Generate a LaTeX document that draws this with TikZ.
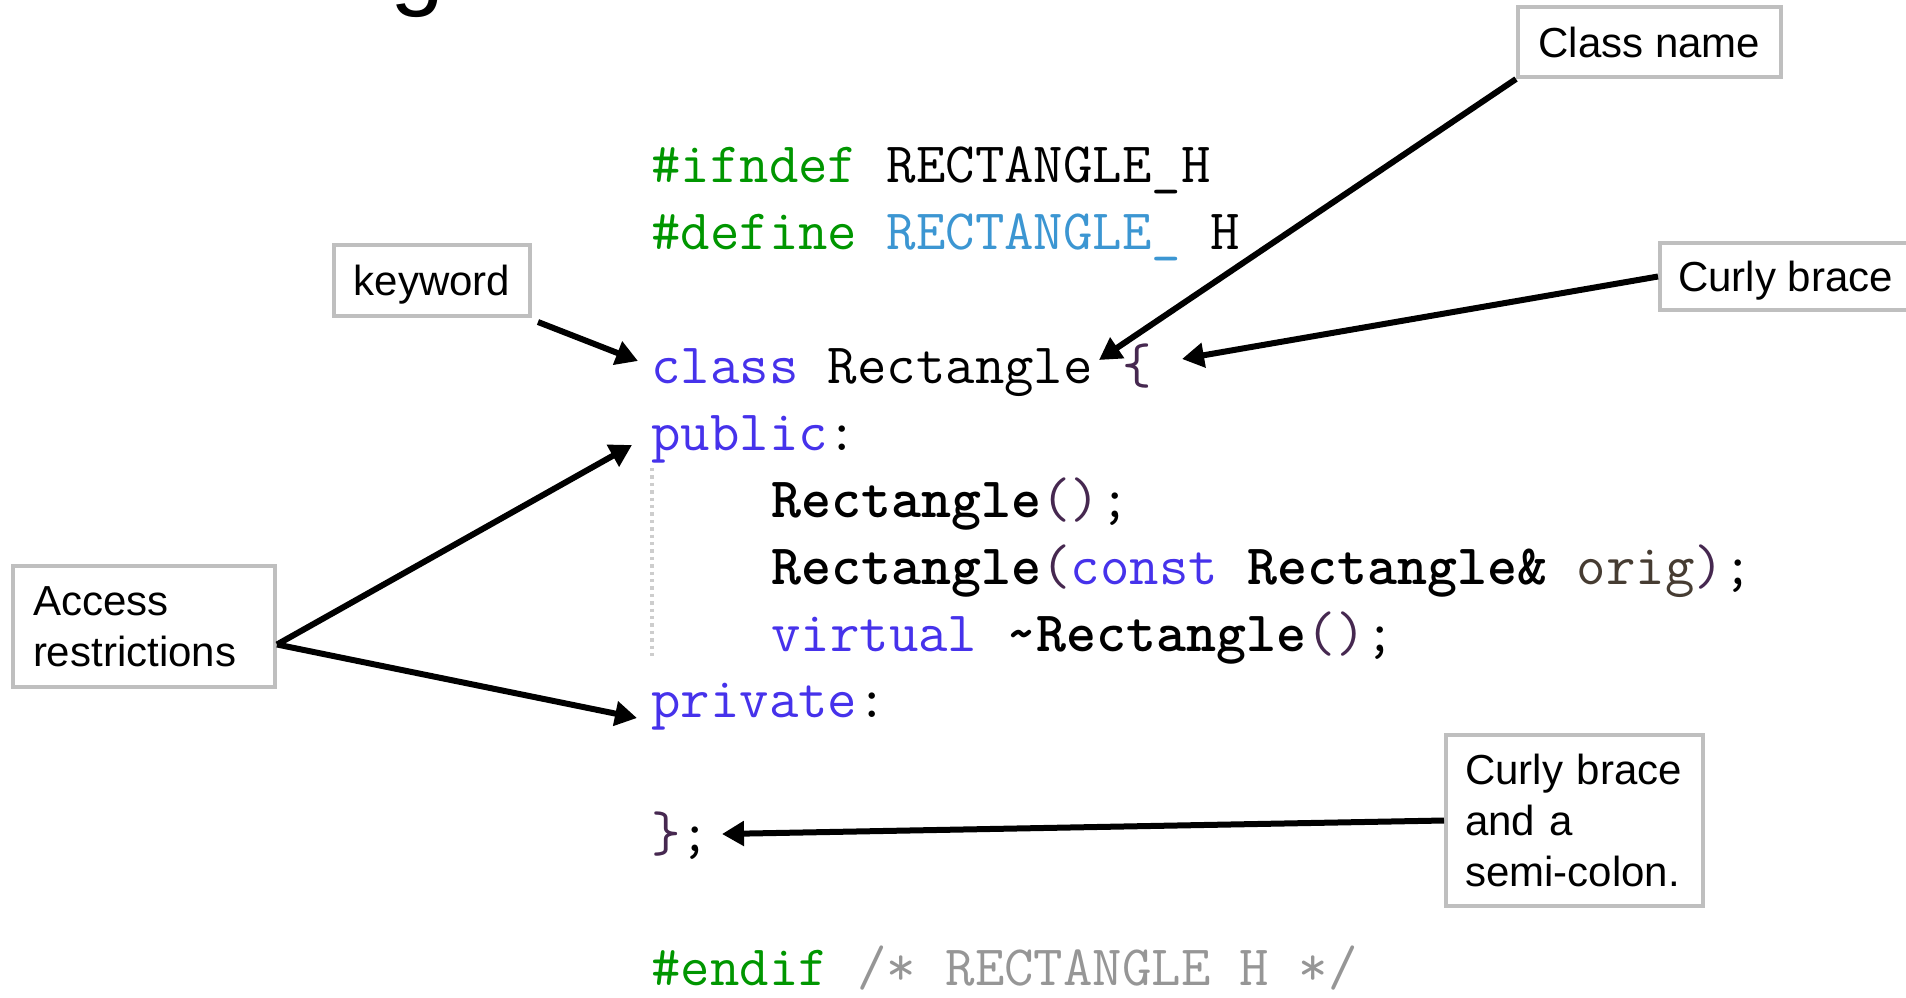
\documentclass[tikz,border=0pt]{standalone}
\usepackage{fontspec}
\setmainfont{Liberation Sans}
\usetikzlibrary{arrows.meta}
\definecolor{boxgray}{RGB}{191,191,191}
\definecolor{ppgreen}{RGB}{0,150,0}
\definecolor{macroblue}{RGB}{60,150,210}
\definecolor{kwblue}{RGB}{70,50,235}
\definecolor{cmtgray}{RGB}{150,150,150}
\definecolor{parencol}{RGB}{70,40,80}
\definecolor{identcol}{RGB}{70,60,50}
\definecolor{guidegray}{RGB}{205,205,205}
\newcommand\codepp[1]{{\color{ppgreen}#1}}
\newcommand\codemac[1]{{\color{macroblue}#1}}
\newcommand\codekw[1]{{\color{kwblue}#1}}
\newcommand\codecm[1]{{\color{cmtgray}#1}}
\newcommand\codepar[1]{{\color{parencol}#1}}
\newcommand\codeid[1]{{\color{identcol}#1}}
\begin{document}
\begin{tikzpicture}[x=0.5pt,y=-0.5pt,
  lbl/.style={draw=boxgray,line width=2pt,fill=white,font=\fontsize{21}{25.5}\selectfont,inner sep=0pt},
  onelbl/.style={lbl,text depth=0pt},
  code/.style={anchor=base west,inner sep=0pt,font=\ttfamily\fontsize{28.57}{30}\selectfont},
  arr/.style={line width=3pt,-{Triangle[length=11pt,width=12pt]}},
]
\useasboundingbox (0,0) rectangle (1906,997);
% title (cut off at top)
\node[anchor=base west,inner sep=0pt,font=\fontsize{48.5}{55}\selectfont] (title) at (83,-2.5) {Rectangle.h};

% code
\node[code] (l1) at (651,182) {\codepp{\#ifndef} RECTANGLE\_H};
\node[code] (l2) at (651,249) {\codepp{\#define} \codemac{RECTANGLE\_}\ H};
\node[code] (l3) at (651,383) {\codekw{class} Rectangle \codepar{\{}};
\node[code] (l4) at (651,450) {\codekw{public}:};
\node[code] (l5) at (771,517) {\textbf{Rectangle}\codepar{()};};
\node[code] (l6) at (771,584) {\textbf{Rectangle}\codepar{(}\codekw{const} \textbf{Rectangle\&} \codeid{orig}\codepar{)};};
\node[code] (l7) at (771,651) {\codekw{virtual} \textbf{\textasciitilde Rectangle}\codepar{()};};
\node[code] (l8) at (651,717) {\codekw{private}:};
\node[code] (l9) at (651,851) {\codepar{\}};};
\node[code] (l10) at (651,985) {\codepp{\#endif} \codecm{/* RECTANGLE H */}};

% dotted scope guide
\coordinate (g1) at (652,468);
\coordinate (g2) at (652,660);
\draw[guidegray,line width=1.6pt,dash pattern=on 1.7pt off 2pt] (g1) -- (g2);

% label boxes
\node[onelbl,minimum width=131.5pt,minimum height=35pt] (cls) at (1649.5,42) {Class name};
\node[onelbl,minimum width=98pt,minimum height=35.5pt] (kw) at (432,280.5) {keyword};
\node[onelbl,minimum width=125.5pt,minimum height=33.5pt] (curly) at (1785.5,276.5) {Curly brace};
\node[lbl,minimum height=60.5pt,inner xsep=10pt,text width=111pt,align=left] (acc) at (144,626.5) {Access\\restrictions};
\node[lbl,minimum height=85.5pt,inner xsep=9.5pt,text width=109.5pt,align=left] (semi) at (1574.5,820.5) {Curly brace\\and a\\semi-colon.};

% arrow targets
\coordinate (tkw) at (638,361);
\coordinate (tname) at (1099,360);
\coordinate (tbrace) at (1182,359);
\coordinate (tpub) at (632,445);
\coordinate (tpriv) at (637,718);
\coordinate (tsemi) at (722,834);

% arrows
\draw[arr] ([xshift=3pt,yshift=-2pt]kw.south east) -- (tkw);
\draw[arr] (cls.south west) -- (tname);
\draw[arr] (curly.west) -- (tbrace);
\draw[arr] ([yshift=-9pt]acc.east) -- (tpub);
\draw[arr] ([yshift=-9pt]acc.east) -- (tpriv);
\draw[arr] (semi.west) -- (tsemi);
\end{tikzpicture}
\end{document}
